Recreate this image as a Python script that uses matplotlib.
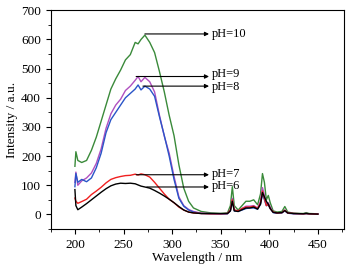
import matplotlib
matplotlib.use("Agg")
import matplotlib.pyplot as plt
from matplotlib.ticker import MultipleLocator

plt.rcParams["font.family"] = ["Liberation Serif", "DejaVu Serif"]

# wavelength grid (nm)
wl = [200, 201, 203, 207, 212, 217, 222, 227, 232, 237, 242, 247, 252, 257,
      262, 265, 268, 272, 277, 282, 287, 292, 297, 302, 307, 312, 317, 322,
      330, 340, 350, 357, 360, 362, 364, 368, 372, 376, 380, 384, 388, 391,
      393, 395, 397, 399, 401, 404, 408, 413, 416, 419, 425, 435, 438, 441, 450]

ph10 = [165, 215, 185, 178, 185, 220, 265, 320, 375, 430, 465, 495, 530, 548,
        590, 585, 600, 615, 590, 555, 490, 420, 340, 270, 170, 90, 45, 22,
        10, 5, 3, 5, 30, 95, 30, 15, 30, 45, 45, 50, 33, 70,
        140, 110, 50, 65, 40, 12, 8, 10, 27, 8, 4, 3, 6, 3, 2]
ph9 = [110, 145, 100, 115, 125, 142, 175, 225, 295, 345, 375, 395, 425, 440,
       460, 473, 455, 470, 455, 420, 340, 268, 210, 130, 60, 30, 17, 10,
       4, 3, 2, 3, 15, 55, 15, 12, 20, 28, 28, 30, 22, 45,
       92, 65, 35, 40, 25, 8, 5, 6, 15, 5, 3, 2, 3, 2, 1]
ph8 = [95, 140, 110, 120, 112, 125, 160, 210, 280, 325, 350, 375, 400, 415,
       430, 444, 427, 440, 430, 405, 335, 270, 200, 120, 55, 28, 15, 8,
       3, 2, 1, 2, 12, 45, 12, 10, 15, 20, 22, 22, 18, 35,
       70, 50, 30, 32, 20, 6, 4, 5, 12, 4, 2, 2, 3, 2, 1]
ph7 = [56, 45, 38, 44, 52, 68, 80, 93, 108, 120, 126, 130, 133, 134,
       138, 135, 139, 136, 128, 110, 90, 70, 52, 40, 25, 15, 8, 5,
       3, 2, 2, 3, 15, 50, 15, 12, 20, 25, 25, 28, 20, 40,
       80, 55, 30, 35, 20, 8, 5, 6, 14, 5, 3, 2, 3, 2, 1]
ph6 = [85, 30, 16, 25, 37, 50, 63, 76, 88, 98, 104, 107, 106, 107,
       105, 101, 97, 94, 90, 82, 73, 63, 52, 40, 27, 15, 8, 5,
       3, 3, 3, 3, 12, 45, 12, 10, 16, 22, 22, 25, 18, 35,
       75, 60, 45, 35, 20, 7, 5, 6, 13, 5, 3, 2, 3, 2, 1]

# annotation: label, peak wavelength, arrow height, text height
labels = ["pH=10", "pH=9", "pH=8", "pH=7", "pH=6"]
arrow_start = [272, 263, 270, 263, 274]
arrow_y = [619, 473, 440, 136, 94]
text_y = [619, 482, 436, 140, 96]

fig = plt.figure(figsize=(3.54, 2.65), dpi=100)
ax = fig.add_axes([0.143, 0.136, 0.829, 0.825])

ax.plot(wl, ph10, color="#3a8a3a", lw=1.0)
ax.plot(wl, ph9, color="#b050c0", lw=1.0)
ax.plot(wl, ph8, color="#2a55c8", lw=1.0)
ax.plot(wl, ph7, color="#f02020", lw=1.0)
ax.plot(wl, ph6, color="black", lw=1.0)

for lab, x0, ya, yt in zip(labels, arrow_start, arrow_y, text_y):
    ax.annotate("", xy=(338, ya), xytext=(x0, ya),
                arrowprops=dict(arrowstyle="-|>", color="black", lw=0.8,
                                mutation_scale=6, shrinkA=0, shrinkB=0))
    ax.text(341, yt, lab, fontsize=9, va="center", ha="left")

ax.set_xlim(175, 477)
ax.set_ylim(-50, 700)
ax.xaxis.set_major_locator(MultipleLocator(50))
ax.xaxis.set_minor_locator(MultipleLocator(25))
ax.yaxis.set_major_locator(MultipleLocator(100))
ax.yaxis.set_minor_locator(MultipleLocator(50))
ax.tick_params(which="both", direction="out", top=False, right=False,
               labelsize=9.5)
ax.tick_params(which="major", length=3.5)
ax.tick_params(which="minor", length=2)
ax.set_xlabel("Wavelength / nm", fontsize=9.5, labelpad=1)
ax.set_ylabel("Intensity / a.u.", fontsize=9.5, labelpad=2)

fig.savefig("out.png", dpi=100)
